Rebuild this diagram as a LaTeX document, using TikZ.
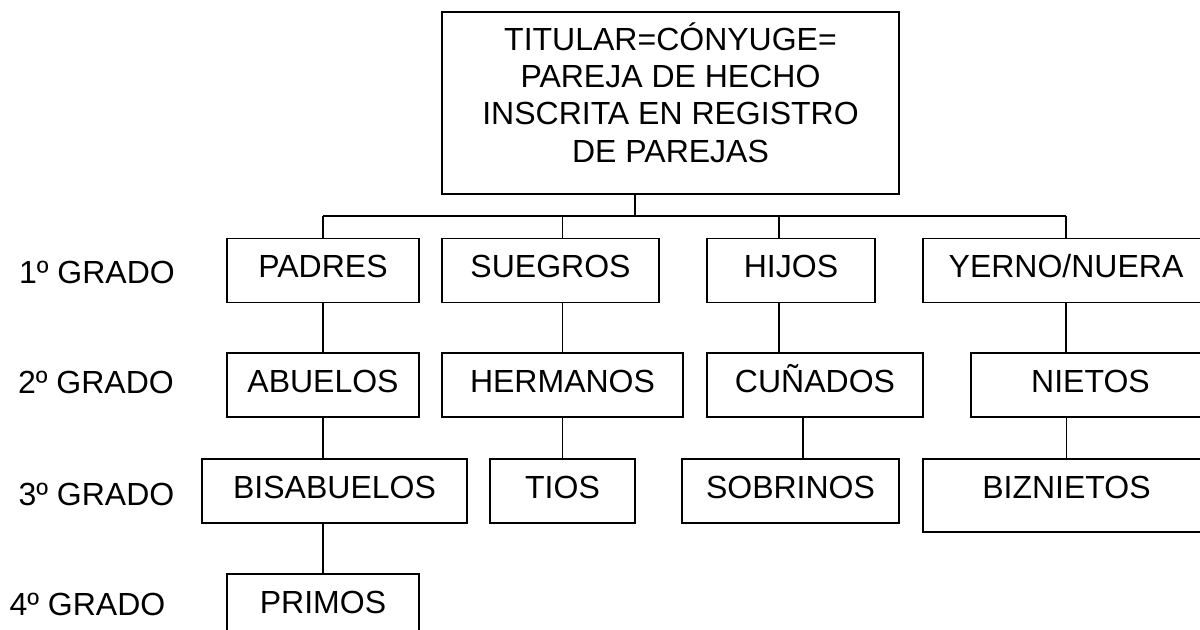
\documentclass[tikz,border=0pt]{standalone}
\usepackage{fontspec}
\setmainfont{Liberation Sans}
\usetikzlibrary{positioning}

\begin{document}
\begin{tikzpicture}[x=0.5pt, y=-0.5pt, line width=0.6pt,
    font=\fontsize{16}{18.6}\selectfont,
    box/.style={draw, inner sep=0pt, minimum height=32pt, text height=11pt, text depth=4pt},
    grado/.style={anchor=base}]

\useasboundingbox (0,0) rectangle (1200,629);
\clip (0,0) rectangle (1200,629);

% Define the nodes
\node[box, minimum width=228.5pt, minimum height=91pt, align=center, text height=67pt, text depth=8pt] (top) at (670.5,103)
    {TITULAR=CÓNYUGE=\\PAREJA DE HECHO\\INSCRITA EN REGISTRO\\DE PAREJAS};

\node[box, minimum width=96pt] (padres) at (323,270.5) {PADRES};
\node[box, minimum width=108.5pt] (suegros) at (550.5,270.5) {SUEGROS};
\node[box, minimum width=84pt] (hijos) at (791,270.5) {HIJOS};
\node[box, minimum width=143pt] (yerno) at (1066,270.5) {YERNO/NUERA};

\node[box, minimum width=96pt] (abuelos) at (323,385) {ABUELOS};
\node[box, minimum width=120.5pt] (hermanos) at (562.5,385) {HERMANOS};
\node[box, minimum width=108pt] (cunados) at (815,385) {CUÑADOS};
\node[box, minimum width=119.5pt] (nietos) at (1090.5,385) {NIETOS};

\node[box, minimum width=132.5pt] (bisabuelos) at (334.5,491) {BISABUELOS};
\node[box, minimum width=72.5pt] (tios) at (562.5,491) {TIOS};
\node[box, minimum width=108.5pt] (sobrinos) at (790.5,491) {SOBRINOS};
\node[box, minimum width=143.5pt, minimum height=36.5pt, text depth=8pt] (biznietos) at (1066.5,495.5) {BIZNIETOS};

\node[box, minimum width=96pt] (primos) at (323,606) {PRIMOS};

% Degree labels
\node[grado] (g1) at (97,283) {1º GRADO};
\node[grado] (g2) at (96,393) {2º GRADO};
\node[grado] (g3) at (96.5,505) {3º GRADO};
\node[grado] (g4) at (87.5,615) {4º GRADO};

% Bus under the main box
\coordinate (bus) at (635,216);
\draw (top.south -| bus) -- (bus);
\draw (padres.north |- bus) -- (yerno.north |- bus);
\draw (padres.north |- bus) -- (padres.north);
\draw (hermanos.north |- bus) -- (hermanos.north |- suegros.north);
\draw ([xshift=-6pt]hijos.north |- bus) -- ([xshift=-6pt]hijos.north);
\draw (yerno.north |- bus) -- (yerno.north);

% Lines between degrees
\draw (padres.south) -- (abuelos.north);
\draw (hermanos.north |- suegros.south) -- (hermanos.north);
\draw ([xshift=-6pt]hijos.south) -- ([xshift=-6pt]hijos.south |- cunados.north);
\draw (yerno.south) -- (yerno.south |- nietos.north);
\draw (abuelos.south) -- (abuelos.south |- bisabuelos.north);
\draw (hermanos.south) -- (tios.north);
\draw ([xshift=-6pt]cunados.south) -- ([xshift=-6pt]cunados.south |- sobrinos.north);
\draw (biznietos.north |- nietos.south) -- (biznietos.north);
\draw (primos.north |- bisabuelos.south) -- (primos.north);

\end{tikzpicture}
\end{document}
